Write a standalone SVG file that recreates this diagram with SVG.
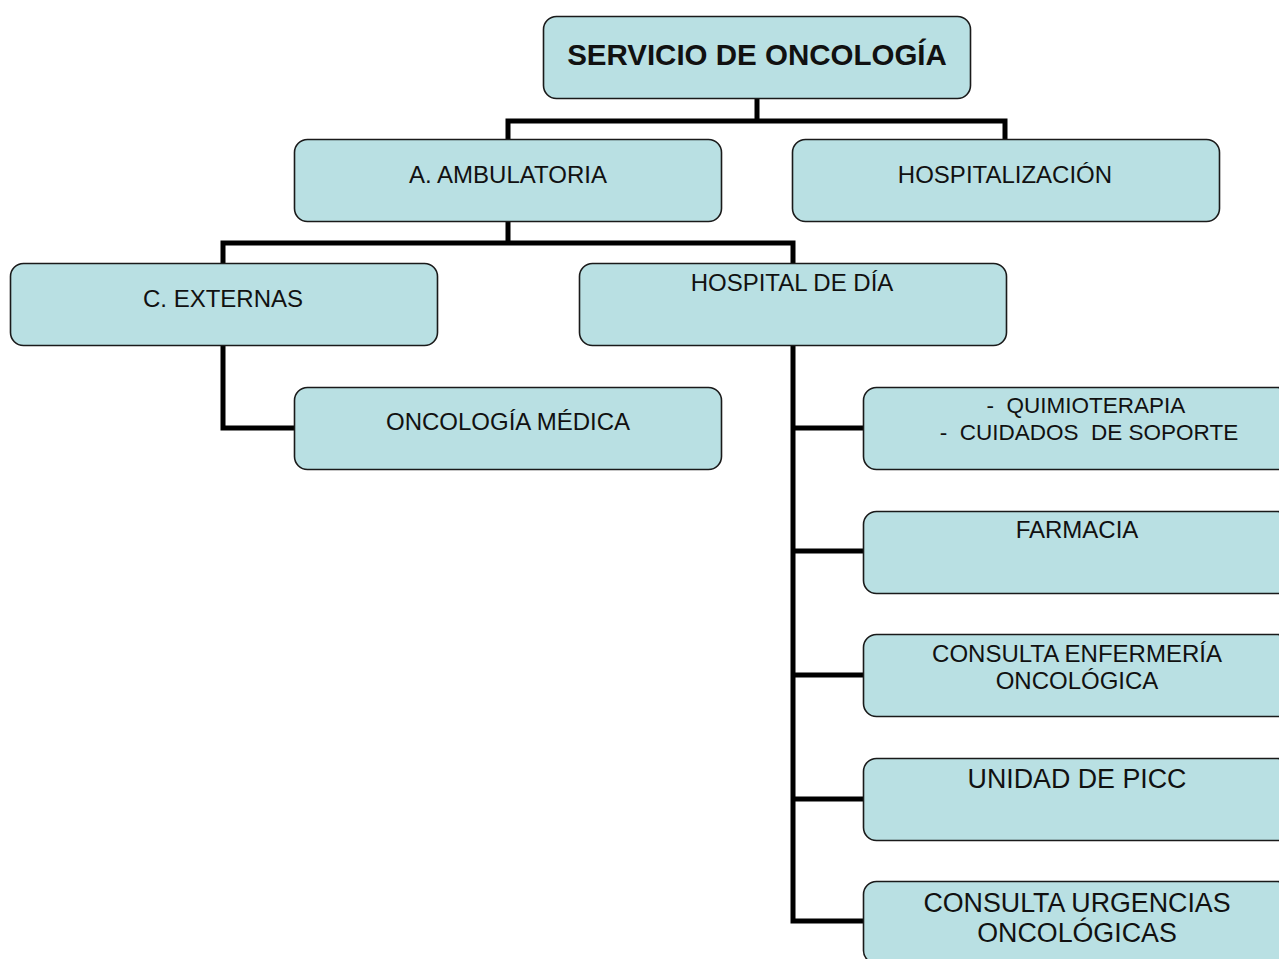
<svg xmlns="http://www.w3.org/2000/svg" width="1279" height="959" viewBox="0 0 1279 959">
<style>
.box{fill:#b9e0e3;stroke:#1a1a1a;stroke-width:1.6}
.t{font-family:"Liberation Sans",Arial,sans-serif;font-size:24px;fill:#111;text-anchor:middle}
.q{font-size:22.5px}
.b{font-weight:bold;font-size:29.5px}
.l{font-size:26.8px}
.c{fill:none;stroke:#000;stroke-width:5;stroke-linecap:square;stroke-linejoin:miter}
</style>
<rect width="1279" height="959" fill="#fff"/>
<g id="connectors">
<path class="c" d="M757 98V121M508 139V121H1005V139"/>
<path class="c" d="M508 221V243M223 263V243H793V263"/>
<path class="c" d="M223 345V428H295"/>
<path class="c" d="M793 345V921H864M793 428H864M793 551H864M793 675H864M793 799H864"/>
</g>
<g id="servicio"><rect class="box" x="543.5" y="16.5" width="427" height="82" rx="13"/><text class="t b" x="757" y="65">SERVICIO DE ONCOLOGÍA</text></g>
<g id="ambulatoria"><rect class="box" x="294.5" y="139.5" width="427" height="82" rx="13"/><text class="t" x="508" y="183">A. AMBULATORIA</text></g>
<g id="hospitalizacion"><rect class="box" x="792.5" y="139.5" width="427" height="82" rx="13"/><text class="t" x="1005" y="183">HOSPITALIZACIÓN</text></g>
<g id="externas"><rect class="box" x="10.5" y="263.5" width="427" height="82" rx="13"/><text class="t" x="223" y="307">C. EXTERNAS</text></g>
<g id="hospital-dia"><rect class="box" x="579.5" y="263.5" width="427" height="82" rx="13"/><text class="t" x="792" y="291">HOSPITAL DE DÍA</text></g>
<g id="oncologia-medica"><rect class="box" x="294.5" y="387.5" width="427" height="82" rx="13"/><text class="t" x="508" y="430">ONCOLOGÍA MÉDICA</text></g>
<g id="quimioterapia"><rect class="box" x="863.5" y="387.5" width="427" height="82" rx="13"/><text class="t q" x="1086" y="413" xml:space="preserve">-  QUIMIOTERAPIA</text><text class="t q" x="1089" y="440" xml:space="preserve">-  CUIDADOS  DE SOPORTE</text></g>
<g id="farmacia"><rect class="box" x="863.5" y="511.5" width="427" height="82" rx="13"/><text class="t" x="1077" y="538">FARMACIA</text></g>
<g id="enfermeria"><rect class="box" x="863.5" y="634.5" width="427" height="82" rx="13"/><text class="t" x="1077" y="662">CONSULTA ENFERMERÍA</text><text class="t" x="1077" y="689">ONCOLÓGICA</text></g>
<g id="picc"><rect class="box" x="863.5" y="758.5" width="427" height="82" rx="13"/><text class="t l" x="1077" y="788">UNIDAD DE PICC</text></g>
<g id="urgencias"><rect class="box" x="863.5" y="881.5" width="427" height="82" rx="13"/><text class="t l" x="1077" y="912">CONSULTA URGENCIAS</text><text class="t l" x="1077" y="942">ONCOLÓGICAS</text></g>
</svg>
